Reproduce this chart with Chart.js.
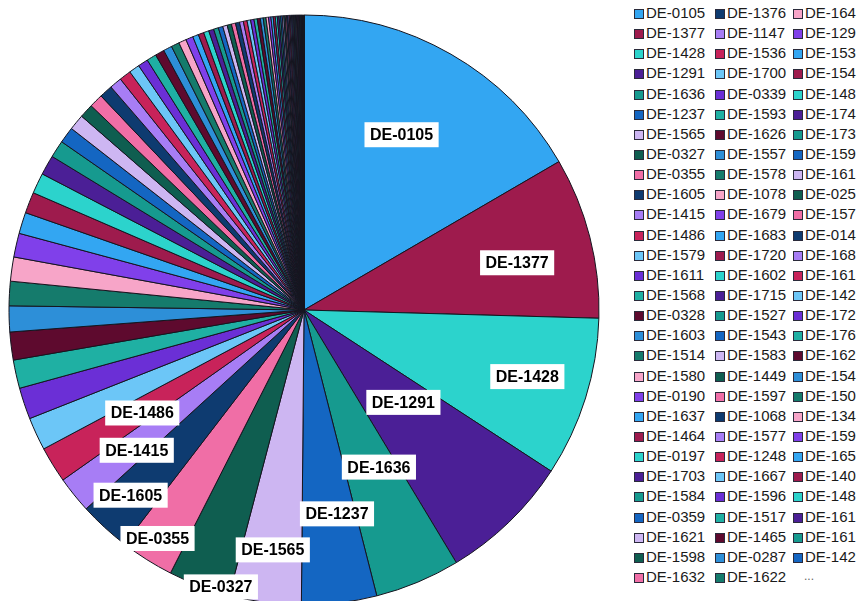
<!DOCTYPE html>
<html>
<head>
<meta charset="utf-8">
<script src="https://cdn.jsdelivr.net/npm/chart.js@4.4.1/dist/chart.umd.min.js"></script>
<style>
    body {
        margin: 0;
        background: #fff;
        overflow: hidden;
        width: 857px;
        height: 601px;
        position: relative;
        font-family: "Liberation Sans", Arial, sans-serif;
    }
    #pieWrap {
        position: absolute;
        left: 0;
        top: 0;
        width: 608px;
        height: 620px;
    }
    .item {
        position: absolute;
        font-size: 15px;
        line-height: 20px;
        color: #1a1a1a;
        white-space: nowrap;
    }
    .box {
        display: inline-block;
        width: 8px;
        height: 8px;
        border: 1px solid #2a2a3a;
        margin-right: 2px;
        vertical-align: -1px;
    }
    .more {
        position: absolute;
        font-size: 12px;
        color: #666;
    }
</style>
</head>
<body>
<div id="pieWrap"><canvas id="pie"></canvas></div>
<div id="legend"></div>
<script>
// slice names, biggest first (clockwise from 12 o'clock)
const mainLabels = [
    "DE-0105", "DE-1377", "DE-1428", "DE-1291", "DE-1636", "DE-1237", "DE-1565", "DE-0327",
    "DE-0355", "DE-1605", "DE-1415", "DE-1486", "DE-1579", "DE-1611", "DE-1568", "DE-0328",
    "DE-1603", "DE-1514", "DE-1580", "DE-0190", "DE-1637", "DE-1464", "DE-0197", "DE-1703",
    "DE-1584", "DE-0359", "DE-1621", "DE-1598", "DE-1632",
    "DE-1376", "DE-1147", "DE-1536", "DE-1700", "DE-0339", "DE-1593", "DE-1626", "DE-1557",
    "DE-1578", "DE-1078", "DE-1679", "DE-1683", "DE-1720", "DE-1602", "DE-1715", "DE-1527",
    "DE-1543", "DE-1583", "DE-1449", "DE-1597", "DE-1068", "DE-1577", "DE-1248", "DE-1667",
    "DE-1596", "DE-1517", "DE-1465", "DE-0287", "DE-1622",
    "DE-164", "DE-129", "DE-153", "DE-154", "DE-148", "DE-174", "DE-173", "DE-159",
    "DE-161", "DE-025", "DE-157", "DE-014", "DE-168", "DE-161", "DE-142", "DE-172",
    "DE-176", "DE-162", "DE-154", "DE-150", "DE-134", "DE-159", "DE-165", "DE-140",
    "DE-148", "DE-161", "DE-161", "DE-142"
];
const mainValues = [
    5980, 3180, 3150, 2580, 1680, 1480, 1420, 1220,
    1060, 1010, 720, 710, 650, 620, 560, 550,
    510, 480, 475, 470, 420, 415, 405, 390,
    340, 320, 310, 275, 270,
    260, 240, 230, 210, 200, 190, 180, 170,
    160, 150, 145, 115, 110, 105, 100, 95,
    90, 88, 85, 82, 80, 76, 73, 70,
    67, 64, 60, 57, 54,
    50, 47, 44, 41, 38, 35, 32, 32,
    30, 28, 27, 26, 24, 23, 22, 21,
    20, 19, 18, 17, 16, 15, 14, 14,
    13, 12, 12, 11
];
// the small rest that the legend cuts off with "..."
const restLabels = [
    "DE-r01", "DE-r02", "DE-r03", "DE-r04", "DE-r05", "DE-r06",
    "DE-r07", "DE-r08", "DE-r09", "DE-r10", "DE-r11", "DE-r12"
];
const restValues = [6, 5, 5, 4, 4, 3, 3, 3, 2, 2, 2, 2];

const palette = [
    "#33a6f2", "#9e1b4d", "#2cd3cc", "#4b1f96", "#169a8f",
    "#1466c2", "#cdb6f2", "#0f5e50", "#f06ea6", "#0e3b70",
    "#a77df5", "#c8235a", "#6cc6f7", "#6b2fd6", "#1fb0a3",
    "#5e0a2e", "#2d8fd8", "#157b6c", "#f7a5c8", "#8040ea"
];

const labels = mainLabels.concat(restLabels);
const values = mainValues.concat(restValues);
const colors = labels.map((l, i) => palette[i % palette.length]);

// [slice index, radius fraction, angle shift in degrees]
const labelSpots = [
    [0, 0.68, -0.8], [1, 0.74, 1.8], [2, 0.79, -0.75], [3, 0.46, -3.1],
    [4, 0.59, -2.8], [5, 0.70, -2.3], [6, 0.82, -0.2], [7, 0.98, -4.1],
    [8, 0.92, 0.45], [9, 0.86, 0.55], [10, 0.74, -1.2], [11, 0.65, -0.85]
];

const sliceLabels = {
    id: "sliceLabels",
    afterDatasetsDraw(chart) {
        const meta = chart.getDatasetMeta(0);
        const ctx = chart.ctx;
        ctx.save();
        ctx.font = "bold 16px 'Liberation Sans', Arial, sans-serif";
        ctx.textAlign = "center";
        ctx.textBaseline = "middle";
        labelSpots.forEach(([i, frac, shift]) => {
            const arc = meta.data[i];
            const mid = (arc.startAngle + arc.endAngle) / 2 + shift * Math.PI / 180;
            const r = arc.outerRadius * frac;
            const x = arc.x + Math.cos(mid) * r;
            const y = arc.y + Math.sin(mid) * r;
            const text = chart.data.labels[i];
            const w = ctx.measureText(text).width + 11;
            ctx.fillStyle = "#fff";
            ctx.fillRect(x - w / 2, y - 12.5, w, 25);
            ctx.fillStyle = "#000";
            ctx.fillText(text, x, y + 1);
        });
        ctx.restore();
    }
};

new Chart(document.getElementById("pie"), {
    type: "pie",
    data: {
        labels: labels,
        datasets: [{
            data: values,
            backgroundColor: colors,
            borderColor: "#14141e",
            borderWidth: 1,
            hoverOffset: 0
        }]
    },
    options: {
        responsive: true,
        maintainAspectRatio: false,
        animation: false,
        radius: 295,
        layout: { padding: 0 },
        plugins: {
            legend: { display: false },
            tooltip: { enabled: false }
        }
    },
    plugins: [sliceLabels]
});

// legend: three columns of 29 rows, then "..."
const legend = document.getElementById("legend");
const colX = [634, 715, 793];
const rows = 29;
mainLabels.forEach((name, i) => {
    const item = document.createElement("div");
    item.className = "item";
    item.style.left = colX[Math.floor(i / rows)] + "px";
    item.style.top = (3 + (i % rows) * 20.14) + "px";
    item.innerHTML = '<span class="box" style="background:' + colors[i] + '"></span>' + name;
    legend.appendChild(item);
});
const more = document.createElement("div");
more.className = "more";
more.textContent = "...";
more.style.left = "804px";
more.style.top = (3 + 28 * 20.14 + 2) + "px";
legend.appendChild(more);
</script>
</body>
</html>
